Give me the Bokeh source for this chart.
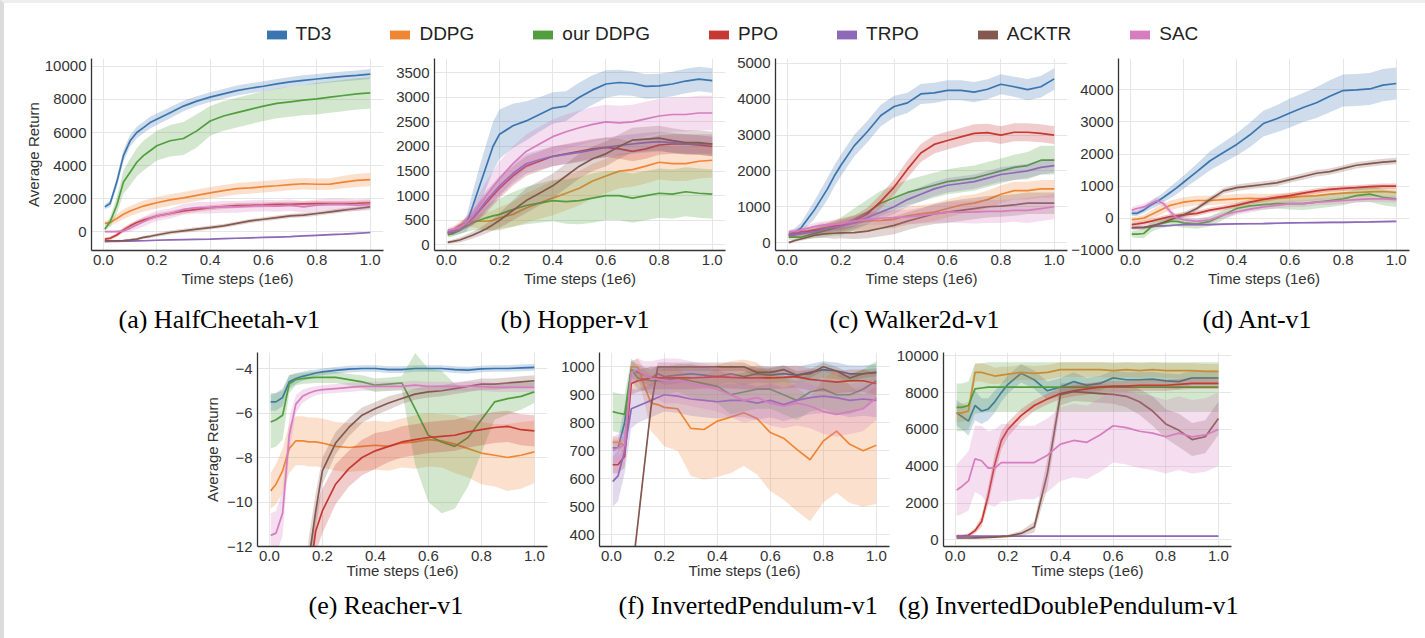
import numpy as np
from bokeh.plotting import figure
from bokeh.layouts import column, row
from bokeh.models import Range1d, FixedTicker, PrintfTickFormatter, Legend, LegendItem, Title
from bokeh.embed import file_html
from bokeh.resources import INLINE

# ---------------------------------------------------------------- data
ALGOS = ["TD3", "DDPG", "our DDPG", "PPO", "TRPO", "ACKTR", "SAC"]
COLORS = ["#3b75af", "#ef8636", "#519e3e", "#c53932", "#8d69b8", "#84584e", "#d57dbf"]

# evaluation points, in millions of time steps
STEPS = [0.005, 0.025, 0.05, 0.075, 0.1, 0.125, 0.15, 0.175, 0.2, 0.25, 0.3, 0.35, 0.4,
         0.45, 0.5, 0.55, 0.6, 0.65, 0.7, 0.75, 0.8, 0.85, 0.9, 0.95, 1.0]
X_TICKS = [0.0, 0.2, 0.4, 0.6, 0.8, 1.0]

# HalfCheetah-v1 (mean return and half-width of the shaded band)
hc_td3 = [1500, 1700, 3000, 4600, 5500, 6000, 6300, 6600, 6800, 7200, 7600, 7900, 8140, 8340, 8540, 8680, 8800, 8940, 9060, 9160, 9240, 9320, 9400, 9460, 9540]
hc_td3_sd = [150, 200, 300, 350, 350, 350, 350, 350, 350, 330, 320, 300, 300, 300, 300, 300, 300, 300, 300, 300, 300, 300, 300, 300, 300]
hc_ddpg = [500, 550, 800, 1050, 1250, 1400, 1550, 1650, 1750, 1920, 2050, 2200, 2350, 2480, 2600, 2650, 2720, 2780, 2850, 2900, 2870, 2880, 3000, 3100, 3150]
hc_ddpg_sd = [150, 200, 250, 300, 300, 320, 330, 340, 350, 350, 350, 350, 350, 350, 350, 350, 350, 350, 350, 350, 350, 350, 380, 400, 400]
hc_ours = [150, 600, 1600, 3000, 3600, 4200, 4600, 4900, 5200, 5500, 5640, 6100, 6700, 7000, 7200, 7400, 7600, 7760, 7860, 7960, 8040, 8140, 8240, 8340, 8400]
hc_ours_sd = [100, 300, 500, 700, 800, 850, 900, 900, 900, 950, 1000, 1000, 900, 900, 900, 900, 900, 900, 900, 900, 950, 950, 950, 950, 950]
hc_ppo = [-450, -400, -200, 100, 350, 550, 700, 820, 950, 1100, 1250, 1350, 1450, 1520, 1580, 1600, 1620, 1650, 1660, 1680, 1700, 1700, 1700, 1720, 1750]
hc_ppo_sd = [80, 100, 120, 150, 150, 150, 150, 150, 150, 150, 150, 150, 150, 150, 150, 150, 150, 150, 150, 150, 150, 150, 150, 150, 150]
hc_trpo = [-600, -595, -590, -580, -570, -560, -550, -535, -520, -500, -480, -465, -450, -425, -400, -375, -350, -325, -300, -260, -220, -185, -150, -100, -50]
hc_trpo_sd = [40, 40, 40, 40, 40, 40, 40, 40, 40, 40, 40, 40, 40, 40, 40, 40, 40, 40, 40, 40, 40, 40, 40, 40, 40]
hc_acktr = [-550, -550, -550, -540, -500, -450, -350, -280, -200, -50, 50, 150, 250, 350, 500, 650, 750, 850, 950, 1000, 1100, 1200, 1300, 1400, 1500]
hc_acktr_sd = [60, 60, 60, 60, 70, 80, 90, 100, 110, 120, 120, 120, 120, 120, 120, 120, 120, 130, 130, 130, 130, 130, 130, 130, 130]
hc_sac = [0, 0, 0, 50, 200, 400, 600, 800, 950, 1100, 1350, 1450, 1450, 1500, 1500, 1550, 1580, 1550, 1600, 1500, 1600, 1650, 1650, 1600, 1650]
hc_sac_sd = [50, 60, 80, 120, 200, 250, 300, 300, 300, 300, 320, 350, 350, 350, 350, 350, 350, 350, 350, 350, 350, 350, 350, 350, 350]

# Hopper-v1
hop_td3 = [250, 250, 300, 420, 800, 1200, 1600, 2000, 2250, 2420, 2520, 2650, 2780, 2820, 3000, 3150, 3270, 3300, 3280, 3220, 3230, 3270, 3330, 3370, 3340]
hop_td3_sd = [50, 60, 80, 150, 300, 400, 450, 500, 500, 450, 400, 350, 320, 300, 300, 300, 280, 260, 250, 250, 250, 250, 250, 250, 250]
hop_ddpg = [250, 300, 400, 450, 480, 480, 480, 500, 550, 620, 750, 850, 950, 1050, 1150, 1300, 1400, 1500, 1530, 1600, 1680, 1650, 1650, 1700, 1720]
hop_ddpg_sd = [50, 60, 80, 100, 120, 150, 180, 200, 220, 250, 300, 320, 350, 350, 350, 350, 350, 350, 350, 350, 350, 350, 350, 350, 350]
hop_ours = [200, 230, 300, 380, 450, 500, 550, 590, 620, 720, 800, 850, 900, 880, 900, 950, 1000, 1000, 950, 1000, 1050, 1030, 1080, 1050, 1030]
hop_ours_sd = [50, 60, 80, 120, 150, 200, 250, 300, 320, 350, 380, 400, 420, 450, 480, 500, 500, 500, 500, 500, 500, 500, 500, 500, 500]
hop_ppo = [250, 280, 350, 450, 550, 700, 850, 1000, 1150, 1400, 1600, 1700, 1800, 1850, 1900, 1950, 1980, 1950, 1900, 1950, 2030, 2050, 2050, 2030, 2000]
hop_ppo_sd = [50, 60, 80, 100, 150, 180, 200, 200, 200, 200, 200, 200, 200, 200, 200, 200, 200, 200, 200, 200, 200, 200, 200, 200, 200]
hop_trpo = [250, 280, 350, 450, 560, 720, 900, 1050, 1200, 1450, 1650, 1730, 1800, 1840, 1880, 1930, 1980, 2020, 2050, 2080, 2100, 2080, 2050, 2050, 2050]
hop_trpo_sd = [50, 60, 80, 100, 150, 180, 200, 200, 200, 200, 200, 200, 200, 200, 200, 200, 200, 200, 200, 200, 200, 200, 200, 200, 200]
hop_acktr = [50, 70, 100, 150, 200, 260, 330, 410, 500, 700, 900, 1050, 1200, 1400, 1600, 1750, 1850, 2000, 2130, 2150, 2170, 2120, 2080, 2080, 2050]
hop_acktr_sd = [30, 40, 50, 60, 70, 80, 100, 120, 150, 200, 250, 250, 250, 250, 250, 250, 250, 250, 250, 250, 250, 250, 250, 250, 250]
hop_sac = [300, 320, 350, 450, 600, 800, 1000, 1180, 1350, 1650, 1900, 2050, 2200, 2300, 2380, 2450, 2500, 2480, 2500, 2560, 2620, 2650, 2650, 2680, 2680]
hop_sac_sd = [50, 60, 80, 120, 200, 250, 300, 320, 350, 350, 350, 350, 350, 350, 350, 350, 350, 350, 350, 350, 350, 350, 350, 350, 350]

# Walker2d-v1
wk_td3 = [250, 280, 400, 650, 900, 1200, 1500, 1850, 2150, 2700, 3100, 3550, 3800, 3900, 4150, 4180, 4250, 4250, 4200, 4280, 4420, 4350, 4270, 4350, 4570]
wk_td3_sd = [80, 100, 150, 200, 250, 280, 300, 300, 300, 300, 300, 300, 300, 280, 280, 280, 280, 280, 280, 280, 280, 280, 300, 300, 300]
wk_ddpg = [200, 220, 250, 300, 350, 390, 420, 450, 480, 550, 600, 620, 650, 750, 800, 850, 950, 1050, 1100, 1200, 1350, 1450, 1450, 1500, 1500]
wk_ddpg_sd = [80, 80, 100, 100, 120, 150, 150, 180, 200, 220, 250, 250, 250, 250, 250, 250, 250, 250, 250, 250, 250, 250, 250, 250, 250]
wk_ours = [150, 150, 150, 200, 250, 300, 350, 400, 450, 650, 850, 1100, 1250, 1400, 1500, 1600, 1700, 1750, 1800, 1900, 2000, 2100, 2150, 2300, 2300]
wk_ours_sd = [80, 80, 80, 100, 120, 150, 180, 200, 250, 300, 350, 350, 350, 350, 350, 350, 350, 350, 350, 350, 350, 350, 380, 400, 400]
wk_ppo = [200, 230, 300, 320, 350, 380, 420, 460, 500, 600, 800, 1150, 1550, 2050, 2500, 2740, 2850, 2950, 3050, 3070, 3000, 3080, 3080, 3050, 3000]
wk_ppo_sd = [80, 80, 100, 100, 100, 100, 120, 120, 150, 150, 180, 200, 220, 250, 250, 250, 250, 250, 250, 250, 250, 250, 250, 250, 250]
wk_trpo = [200, 220, 250, 280, 300, 350, 400, 420, 450, 550, 700, 850, 1000, 1200, 1350, 1500, 1600, 1650, 1700, 1800, 1900, 1950, 2000, 2100, 2150]
wk_trpo_sd = [60, 60, 80, 80, 100, 100, 120, 120, 150, 150, 180, 200, 200, 200, 200, 200, 200, 200, 200, 200, 200, 200, 200, 200, 200]
wk_acktr = [0, 50, 100, 150, 200, 230, 250, 260, 270, 280, 320, 400, 480, 600, 700, 800, 850, 900, 950, 1000, 1020, 1050, 1100, 1100, 1100]
wk_acktr_sd = [30, 40, 50, 60, 80, 100, 120, 150, 150, 180, 200, 220, 250, 250, 250, 280, 300, 300, 300, 300, 300, 300, 300, 300, 300]
wk_sac = [300, 320, 350, 400, 450, 480, 500, 510, 520, 600, 650, 680, 700, 720, 750, 800, 850, 850, 850, 870, 870, 900, 900, 950, 1000]
wk_sac_sd = [60, 60, 80, 80, 100, 100, 100, 120, 120, 150, 150, 180, 200, 200, 220, 250, 280, 300, 320, 320, 320, 320, 350, 350, 350]

# Ant-v1
ant_td3 = [150, 150, 250, 400, 510, 650, 800, 950, 1120, 1450, 1790, 2050, 2300, 2600, 2950, 3100, 3280, 3450, 3600, 3800, 3980, 4000, 4030, 4150, 4200]
ant_td3_sd = [80, 80, 100, 120, 150, 150, 180, 200, 200, 250, 300, 320, 350, 380, 400, 420, 450, 450, 480, 500, 500, 500, 500, 500, 500]
ant_ddpg = [-50, -30, 0, 100, 200, 300, 400, 450, 500, 550, 550, 580, 600, 620, 600, 620, 650, 680, 700, 750, 780, 800, 820, 830, 800]
ant_ddpg_sd = [80, 80, 100, 120, 150, 150, 150, 150, 150, 150, 150, 150, 150, 150, 150, 150, 150, 150, 150, 150, 150, 150, 150, 150, 150]
ant_ours = [-500, -500, -480, -300, -200, -150, -100, -100, -150, -180, -100, 100, 300, 380, 420, 450, 450, 450, 500, 550, 600, 700, 750, 650, 600]
ant_ours_sd = [100, 120, 150, 150, 150, 150, 150, 150, 150, 150, 150, 150, 150, 150, 150, 150, 180, 200, 200, 200, 200, 200, 250, 250, 250]
ant_ppo = [-200, -180, -150, -100, -50, 0, 50, 80, 100, 150, 250, 320, 400, 500, 580, 650, 700, 780, 850, 900, 930, 950, 980, 1000, 1000]
ant_ppo_sd = [80, 80, 80, 80, 80, 80, 80, 80, 80, 80, 80, 80, 80, 80, 80, 80, 80, 80, 80, 80, 80, 80, 80, 80, 80]
ant_trpo = [-300, -290, -280, -265, -250, -240, -230, -215, -200, -200, -200, -190, -180, -175, -170, -160, -150, -145, -140, -135, -130, -125, -120, -110, -100]
ant_trpo_sd = [30, 30, 30, 30, 30, 30, 30, 30, 30, 30, 30, 30, 30, 30, 30, 30, 30, 30, 30, 30, 30, 30, 30, 30, 30]
ant_acktr = [-300, -300, -300, -250, -200, -130, -50, 20, 100, 300, 580, 850, 950, 1000, 1050, 1100, 1200, 1300, 1400, 1450, 1550, 1650, 1700, 1750, 1780]
ant_acktr_sd = [60, 60, 60, 60, 60, 60, 70, 70, 80, 80, 90, 90, 100, 100, 100, 100, 100, 100, 100, 100, 100, 100, 100, 100, 100]
ant_sac = [250, 300, 350, 450, 550, 450, 200, 0, -50, -100, -50, 100, 200, 280, 350, 400, 450, 450, 500, 520, 550, 580, 600, 600, 580]
ant_sac_sd = [100, 100, 100, 100, 100, 100, 100, 100, 100, 100, 100, 100, 100, 100, 100, 100, 100, 100, 100, 100, 100, 100, 100, 100, 100]

# Reacher-v1 (TRPO stays below the plotted range)
re_td3 = [-5.5, -5.5, -5.3, -4.6, -4.45, -4.35, -4.28, -4.2, -4.15, -4.08, -4.03, -4.0, -4.0, -4.05, -4.05, -4.0, -4.0, -4.0, -4.05, -4.07, -4.02, -4.0, -4.0, -3.97, -3.95]
re_td3_sd = [0.4, 0.4, 0.4, 0.3, 0.25, 0.2, 0.2, 0.15, 0.15, 0.15, 0.15, 0.15, 0.15, 0.15, 0.15, 0.15, 0.15, 0.15, 0.15, 0.15, 0.15, 0.15, 0.15, 0.15, 0.15]
re_ddpg = [-9.5, -9.2, -8.6, -7.6, -7.25, -7.25, -7.3, -7.3, -7.35, -7.5, -7.55, -7.5, -7.45, -7.5, -7.35, -7.3, -7.2, -7.25, -7.4, -7.6, -7.8, -7.9, -8.0, -7.9, -7.75]
re_ddpg_sd = [0.8, 0.9, 1.0, 1.1, 1.1, 1.1, 1.1, 1.1, 1.1, 1.1, 1.1, 1.1, 1.1, 1.1, 1.1, 1.2, 1.2, 1.2, 1.3, 1.3, 1.4, 1.4, 1.5, 1.5, 1.4]
re_ours = [-6.4, -6.3, -6.1, -4.7, -4.5, -4.45, -4.42, -4.4, -4.4, -4.4, -4.5, -4.6, -4.75, -4.7, -4.65, -5.8, -7.0, -7.3, -7.5, -7.1, -6.3, -5.5, -5.35, -5.25, -5.05]
re_ours_sd = [1.2, 1.2, 1.1, 0.4, 0.25, 0.25, 0.25, 0.25, 0.25, 0.25, 0.25, 0.3, 0.3, 0.3, 0.3, 2.5, 3.0, 3.2, 2.8, 2.2, 1.5, 0.8, 0.7, 0.6, 0.5]
re_ppo = [-45.0, -40.0, -34.0, -28.0, -22.0, -17.0, -13.5, -11.3, -10.4, -9.2, -8.5, -8.0, -7.7, -7.5, -7.3, -7.2, -7.1, -7.05, -7.0, -6.85, -6.75, -6.65, -6.6, -6.75, -6.8]
re_ppo_sd = [2.0, 2.0, 2.0, 2.0, 2.0, 1.5, 1.2, 1.0, 1.0, 0.9, 0.8, 0.8, 0.8, 0.7, 0.7, 0.7, 0.7, 0.7, 0.7, 0.7, 0.7, 0.7, 0.7, 0.7, 0.7]
re_acktr = [-40.0, -35.0, -30.0, -25.0, -20.0, -16.0, -12.5, -10.4, -8.6, -7.35, -6.65, -6.1, -5.8, -5.55, -5.35, -5.15, -5.05, -5.0, -4.9, -4.8, -4.7, -4.7, -4.65, -4.6, -4.55]
re_acktr_sd = [2.0, 2.0, 2.0, 2.0, 2.0, 1.5, 1.0, 0.8, 0.6, 0.5, 0.4, 0.35, 0.3, 0.3, 0.25, 0.25, 0.25, 0.25, 0.25, 0.25, 0.25, 0.25, 0.25, 0.25, 0.25]
re_sac = [-11.5, -11.4, -10.5, -7.0, -5.6, -5.25, -5.1, -5.0, -4.95, -4.9, -4.85, -4.8, -4.8, -4.8, -4.8, -4.75, -4.8, -4.8, -4.8, -4.8, -4.8, -4.85, -4.85, -4.85, -4.85]
re_sac_sd = [1.0, 1.0, 1.0, 0.8, 0.4, 0.3, 0.25, 0.2, 0.2, 0.2, 0.2, 0.2, 0.2, 0.2, 0.2, 0.2, 0.2, 0.2, 0.2, 0.2, 0.2, 0.2, 0.2, 0.2, 0.2]

# InvertedPendulum-v1
ip_td3 = [710, 710, 800, 990, 980, 970, 960, 975, 965, 970, 975, 970, 965, 975, 965, 975, 970, 975, 970, 980, 990, 985, 975, 975, 980]
ip_td3_sd = [30, 30, 60, 30, 30, 30, 30, 30, 30, 30, 30, 30, 30, 30, 30, 30, 30, 30, 30, 30, 30, 30, 30, 30, 30]
ip_ddpg = [730, 730, 720, 1000, 1000, 930, 870, 865, 855, 850, 780, 776, 806, 820, 836, 815, 765, 745, 705, 668, 735, 770, 723, 700, 720]
ip_ddpg_sd = [20, 20, 30, 20, 30, 60, 100, 120, 140, 150, 170, 180, 200, 200, 190, 200, 210, 220, 220, 220, 220, 220, 210, 200, 210]
ip_ours = [840, 835, 830, 990, 960, 955, 950, 950, 950, 960, 950, 940, 930, 900, 910, 920, 920, 900, 880, 910, 920, 900, 900, 920, 950]
ip_ours_sd = [70, 70, 70, 40, 40, 40, 50, 50, 50, 50, 60, 60, 60, 70, 70, 70, 70, 70, 70, 70, 70, 70, 70, 70, 70]
ip_ppo = [650, 650, 680, 940, 950, 955, 960, 960, 960, 960, 960, 962, 965, 962, 960, 960, 960, 962, 965, 955, 950, 945, 950, 950, 940]
ip_ppo_sd = [30, 30, 40, 40, 40, 40, 40, 40, 40, 40, 40, 40, 40, 40, 40, 40, 40, 40, 40, 40, 40, 40, 40, 40, 40]
ip_trpo = [590, 610, 700, 850, 860, 870, 880, 890, 900, 895, 885, 880, 875, 880, 880, 870, 880, 865, 880, 890, 895, 890, 880, 885, 880]
ip_trpo_sd = [90, 90, 80, 70, 60, 60, 60, 60, 60, 60, 60, 60, 60, 60, 60, 60, 60, 60, 60, 60, 60, 60, 60, 60, 60]
ip_acktr = [10, 15, 25, 233, 441, 650, 858, 1000, 1000, 1000, 1000, 1000, 1000, 1000, 1000, 980, 980, 990, 970, 975, 1000, 985, 960, 975, 980]
ip_acktr_sd = [15, 15, 15, 15, 15, 15, 15, 15, 15, 15, 15, 15, 15, 15, 15, 15, 15, 15, 15, 15, 15, 15, 15, 15, 15]
ip_sac = [700, 710, 720, 980, 990, 970, 960, 955, 950, 950, 940, 930, 920, 900, 880, 890, 870, 860, 870, 860, 840, 830, 840, 850, 890]
ip_sac_sd = [50, 50, 50, 40, 40, 50, 60, 70, 80, 80, 80, 80, 80, 80, 80, 80, 80, 80, 80, 80, 80, 80, 80, 80, 80]

# InvertedDoublePendulum-v1
idp_td3 = [6900, 6700, 6450, 7300, 7000, 7100, 7500, 8000, 8450, 9050, 8700, 8100, 8300, 8600, 8400, 8500, 8800, 8700, 8700, 8730, 8640, 8600, 8800, 8800, 8800]
idp_td3_sd = [700, 700, 800, 800, 700, 600, 600, 500, 500, 500, 500, 500, 500, 500, 400, 400, 400, 400, 400, 400, 400, 400, 400, 400, 400]
idp_ddpg = [6900, 6900, 7000, 9100, 9100, 9000, 8900, 8950, 9000, 9100, 9050, 9100, 9250, 9250, 9250, 9250, 9200, 9250, 9200, 9250, 9200, 9200, 9200, 9150, 9150]
idp_ddpg_sd = [500, 500, 500, 500, 500, 500, 450, 450, 400, 400, 400, 400, 400, 400, 400, 400, 400, 400, 400, 400, 400, 400, 400, 400, 400]
idp_ours = [7200, 7200, 7300, 8200, 8250, 8300, 8300, 8300, 8300, 8300, 8300, 8300, 8300, 8300, 8300, 8300, 8300, 8300, 8300, 8300, 8300, 8300, 8300, 8300, 8300]
idp_ours_sd = [1300, 1300, 1300, 1350, 1350, 1350, 1350, 1350, 1350, 1350, 1350, 1350, 1350, 1350, 1350, 1350, 1350, 1350, 1350, 1350, 1350, 1350, 1350, 1350, 1350]
idp_ppo = [200, 200, 250, 500, 1000, 2400, 4100, 5400, 6000, 6750, 7300, 7650, 7950, 8100, 8200, 8300, 8350, 8350, 8400, 8400, 8400, 8450, 8500, 8500, 8500]
idp_ppo_sd = [100, 100, 100, 150, 300, 500, 600, 500, 400, 350, 300, 300, 300, 300, 300, 300, 300, 300, 300, 300, 300, 300, 300, 300, 300]
idp_trpo = [200, 200, 200, 200, 200, 200, 200, 200, 200, 200, 200, 200, 200, 200, 200, 200, 200, 200, 200, 200, 200, 200, 200, 200, 200]
idp_trpo_sd = [40, 40, 40, 40, 40, 40, 40, 40, 40, 40, 40, 40, 40, 40, 40, 40, 40, 40, 40, 40, 40, 40, 40, 40, 40]
idp_acktr = [100, 100, 100, 110, 120, 130, 150, 170, 200, 350, 700, 3600, 7900, 8050, 8000, 7950, 7900, 7800, 7500, 7000, 6300, 5950, 5450, 5600, 6600]
idp_acktr_sd = [50, 50, 50, 50, 50, 50, 60, 70, 80, 150, 300, 800, 600, 500, 500, 500, 500, 600, 700, 800, 800, 900, 900, 900, 900]
idp_sac = [2700, 2900, 3200, 4400, 4300, 3900, 3900, 4200, 4200, 4200, 4200, 4600, 5200, 5400, 5300, 5700, 6200, 6100, 5900, 5800, 5600, 5800, 5600, 5700, 6000]
idp_sac_sd = [1400, 1500, 1600, 1800, 1900, 2000, 2100, 2100, 2100, 2000, 2000, 2000, 2000, 2000, 2000, 2000, 2000, 2000, 2000, 2000, 2000, 2000, 2000, 2000, 2000]

# y ticks per environment
HC_TICKS = [0, 2000, 4000, 6000, 8000, 10000]
HOP_TICKS = [0, 500, 1000, 1500, 2000, 2500, 3000, 3500]
WK_TICKS = [0, 1000, 2000, 3000, 4000, 5000]
ANT_TICKS = [-1000, 0, 1000, 2000, 3000, 4000]
RE_TICKS = [-12, -10, -8, -6, -4]
IP_TICKS = [400, 500, 600, 700, 800, 900, 1000]
IDP_TICKS = [0, 2000, 4000, 6000, 8000, 10000]

# ---------------------------------------------------------------- styling
SANS = "Liberation Sans"
SERIF = "Liberation Serif"
INK = "#333333"
GRID = "#e6e6e6"
FRAME_H = 194
X_LIM = (-0.0448, 1.0498)
EDGE_L = 4   # width of the grey page edge on the left
EDGE_T = 3   # height of the grey page edge on top


def minus(v):
    return str(v).replace("-", "\u2212")


def make_panel(series, y_lim, y_ticks, caption, frame_w, border, cap_offset,
               cap_standoff, xlab_standoff, y_label=None, ylab_standoff=0):
    left, right, top, bottom = border
    # fixed outer size: any extra room an axis needs comes out of the frame,
    # so neighbouring panels keep their places
    p = figure(width=left + frame_w + right, height=top + FRAME_H + bottom,
               x_range=Range1d(*X_LIM), y_range=Range1d(*y_lim),
               toolbar_location=None, output_backend="svg",
               min_border_left=left, min_border_right=right,
               min_border_top=top, min_border_bottom=bottom)
    p.outline_line_color = None
    p.border_fill_color = "white"
    p.background_fill_color = "white"

    for ax in (p.xaxis[0], p.yaxis[0]):
        ax.axis_line_color = INK
        ax.axis_line_width = 1.3
        ax.major_tick_line_color = None
        ax.minor_tick_line_color = None
        ax.major_tick_out = 0
        ax.major_tick_in = 0
        ax.minor_tick_out = 0
        ax.minor_tick_in = 0
        ax.major_label_text_font = SANS
        ax.major_label_text_font_size = "15px"
        ax.major_label_text_color = INK
        ax.axis_label_text_font = SANS
        ax.axis_label_text_font_size = "15px"
        ax.axis_label_text_font_style = "normal"
        ax.axis_label_text_color = INK

    p.xaxis.ticker = FixedTicker(ticks=X_TICKS)
    p.xaxis.formatter = PrintfTickFormatter(format="%.1f")
    p.xaxis.major_label_standoff = 4
    p.xaxis.axis_label = "Time steps (1e6)"
    p.xaxis.axis_label_standoff = xlab_standoff
    p.yaxis.ticker = FixedTicker(ticks=y_ticks)
    p.yaxis.major_label_standoff = 5
    p.yaxis.major_label_overrides = {t: minus(t) for t in y_ticks if t < 0}
    if y_label:
        p.yaxis.axis_label = y_label
        p.yaxis.axis_label_standoff = ylab_standoff

    p.xgrid.grid_line_color = GRID
    p.ygrid.grid_line_color = GRID

    for (mean, spread), color in zip(series, COLORS):
        if mean is None:
            continue
        m = np.asarray(mean, dtype=float)
        s = np.asarray(spread, dtype=float)
        p.varea(x=STEPS, y1=m - s, y2=m + s, fill_color=color, fill_alpha=0.25)
        p.line(STEPS, m, line_color=color, line_width=1.7)

    p.add_layout(Title(text=caption, align="left", offset=cap_offset, standoff=cap_standoff,
                       text_font=SERIF, text_font_size="26px", text_font_style="normal",
                       text_color="black"), "below")
    return p


TOP_B = 8
TOP_BOTTOM = 94
BOT_T = 6
BOT_BOTTOM = 92

pa = make_panel([(hc_td3, hc_td3_sd), (hc_ddpg, hc_ddpg_sd), (hc_ours, hc_ours_sd),
                 (hc_ppo, hc_ppo_sd), (hc_trpo, hc_trpo_sd), (hc_acktr, hc_acktr_sd),
                 (hc_sac, hc_sac_sd)],
                (-1140, 10480), HC_TICKS, "(a) HalfCheetah-v1", 292,
                (91 - EDGE_L, 8, TOP_B, TOP_BOTTOM), 27, 26, 2,
                y_label="Average Return", ylab_standoff=0)
pb = make_panel([(hop_td3, hop_td3_sd), (hop_ddpg, hop_ddpg_sd), (hop_ours, hop_ours_sd),
                 (hop_ppo, hop_ppo_sd), (hop_trpo, hop_trpo_sd), (hop_acktr, hop_acktr_sd),
                 (hop_sac, hop_sac_sd)],
                (-114, 3788), HOP_TICKS, "(b) Hopper-v1", 291,
                (43, 8, TOP_B, TOP_BOTTOM), 66, 26, 2)
pc = make_panel([(wk_td3, wk_td3_sd), (wk_ddpg, wk_ddpg_sd), (wk_ours, wk_ours_sd),
                 (wk_ppo, wk_ppo_sd), (wk_trpo, wk_trpo_sd), (wk_acktr, wk_acktr_sd),
                 (wk_sac, wk_sac_sd)],
                (-221, 5139), WK_TICKS, "(c) Walker2d-v1", 292,
                (42, 1, TOP_B, TOP_BOTTOM), 54, 26, 2)
pd_ = make_panel([(ant_td3, ant_td3_sd), (ant_ddpg, ant_ddpg_sd), (ant_ours, ant_ours_sd),
                  (ant_ppo, ant_ppo_sd), (ant_trpo, ant_trpo_sd), (ant_acktr, ant_acktr_sd),
                  (ant_sac, ant_sac_sd)],
                 (-1010, 4980), ANT_TICKS, "(d) Ant-v1", 291,
                 (50, 16 - EDGE_L, TOP_B, TOP_BOTTOM), 84, 26, 2)

pe = make_panel([(re_td3, re_td3_sd), (re_ddpg, re_ddpg_sd), (re_ours, re_ours_sd),
                 (re_ppo, re_ppo_sd), (None, None), (re_acktr, re_acktr_sd),
                 (re_sac, re_sac_sd)],
                (-12, -3.28), RE_TICKS, "(e) Reacher-v1", 290,
                (257 - EDGE_L, 6, BOT_T, BOT_BOTTOM), 51, 14, -2,
                y_label="Average Return", ylab_standoff=3)
pf = make_panel([(ip_td3, ip_td3_sd), (ip_ddpg, ip_ddpg_sd), (ip_ours, ip_ours_sd),
                 (ip_ppo, ip_ppo_sd), (ip_trpo, ip_trpo_sd), (ip_acktr, ip_acktr_sd),
                 (ip_sac, ip_sac_sd)],
                (358, 1051), IP_TICKS, "(f) InvertedPendulum-v1", 290,
                (46, 4, BOT_T, BOT_BOTTOM), 19, 14, -2)
pg = make_panel([(idp_td3, idp_td3_sd), (idp_ddpg, idp_ddpg_sd), (idp_ours, idp_ours_sd),
                 (idp_ppo, idp_ppo_sd), (idp_trpo, idp_trpo_sd), (idp_acktr, idp_acktr_sd),
                 (idp_sac, idp_sac_sd)],
                (-362, 10180), IDP_TICKS, "(g) InvertedDoublePendulum-v1", 289,
                (49, 194 - EDGE_L, BOT_T, BOT_BOTTOM), -45, 14, -2)

# ---------------------------------------------------------------- shared legend strip
lg = figure(width=1425 - EDGE_L, height=50 - EDGE_T, x_range=Range1d(0, 1), y_range=Range1d(0, 1),
            x_axis_type=None, y_axis_type=None, toolbar_location=None,
            output_backend="svg", min_border=0)
lg.outline_line_color = None
items = []
for name, color in zip(ALGOS, COLORS):
    # hidden swatch renderer: only its legend patch is shown
    r = lg.quad(left=[0], right=[1], bottom=[0], top=[1], fill_color=color, line_color=None)
    r.visible = False
    items.append(LegendItem(label=name, renderers=[r]))
legend = Legend(items=items, orientation="horizontal", location=(263.5 - EDGE_L, 5),
                glyph_width=25, glyph_height=11, label_standoff=7, spacing=56,
                padding=0, margin=0, border_line_color=None, background_fill_alpha=0,
                label_text_font=SANS, label_text_font_size="19px", label_text_color="#222222")
lg.add_layout(legend)

page = column(lg, row(pa, pb, pc, pd_), row(pe, pf, pg),
              styles={"border-left": f"{EDGE_L}px solid #dcdcdc",
                      "border-top": f"{EDGE_T}px solid #eeeeee"})
open("out.html", "w").write(file_html(page, INLINE))
